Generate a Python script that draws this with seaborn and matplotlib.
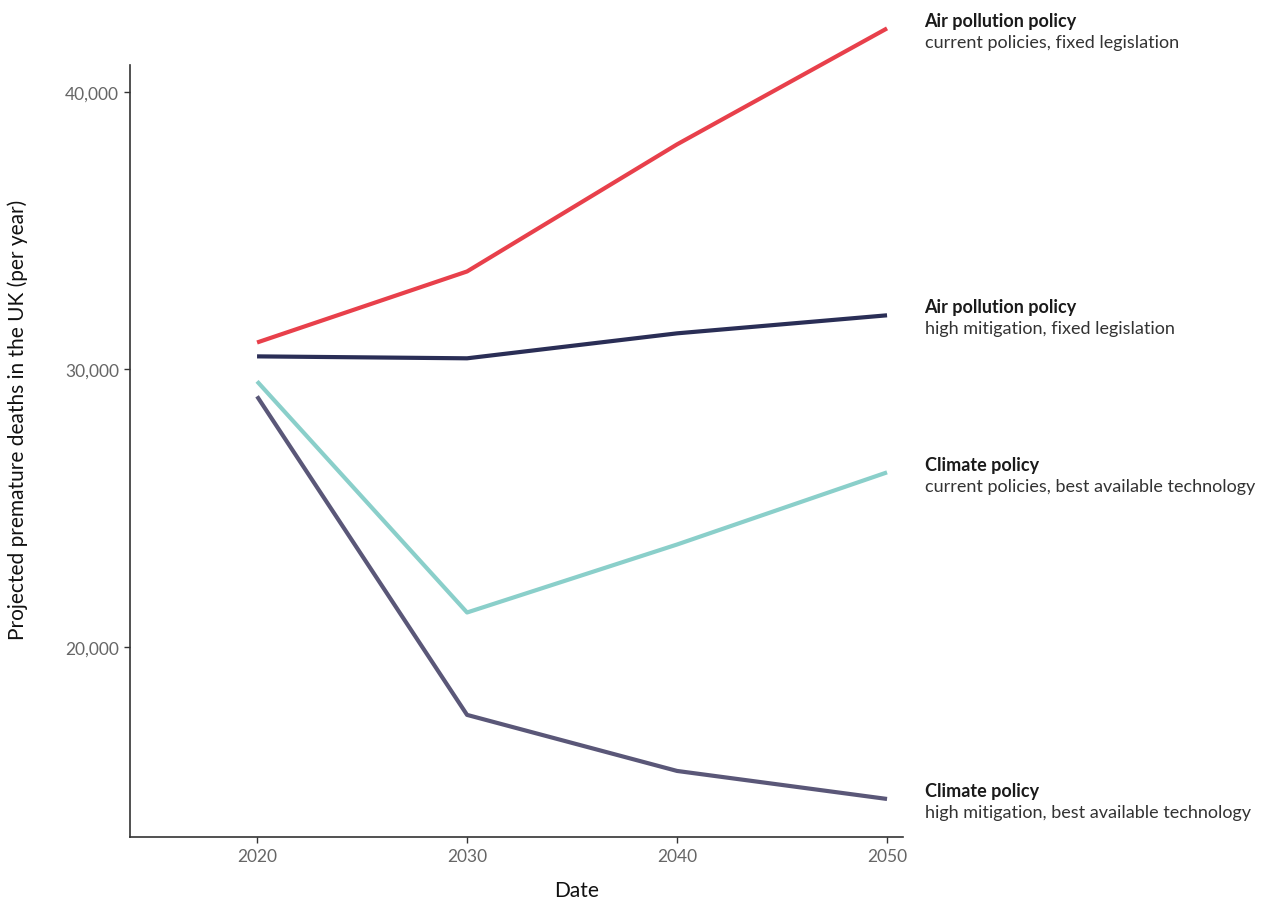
import matplotlib
matplotlib.use("Agg")
import matplotlib.pyplot as plt
import seaborn as sns
import pandas as pd
from matplotlib.ticker import FuncFormatter

# data
years = [2020, 2030, 2040, 2050]
air_current = [30970, 33530, 38110, 42290]
air_high = [30470, 30400, 31300, 31950]
climate_current = [29570, 21240, 23690, 26290]
climate_high = [29030, 17550, 15530, 14520]

titles = ["Air pollution policy", "Air pollution policy", "Climate policy", "Climate policy"]
subtitles = ["current policies, fixed legislation", "high mitigation, fixed legislation",
             "current policies, best available technology", "high mitigation, best available technology"]
colors = ["#E8404B", "#2A2E56", "#8ACFCA", "#5A5778"]

series = [air_current, air_high, climate_current, climate_high]
rows = []
for i, vals in enumerate(series):
    for y, v in zip(years, vals):
        rows.append({"Date": y, "deaths": v, "scenario": i})
df = pd.DataFrame(rows)

sns.set_style("white")
plt.rcParams["font.family"] = ["Lato", "DejaVu Sans"]

fig = plt.figure(figsize=(12.61, 9.03), dpi=100)
ax = fig.add_axes([0.1031, 0.0720, 0.6130, 0.8549])

sns.lineplot(data=df, x="Date", y="deaths", hue="scenario", palette=colors,
             linewidth=3, legend=False, ax=ax)
for line in ax.lines:
    line.set_clip_on(False)
    line.set_solid_capstyle("butt")

ax.set_xlim(2013.95, 2050.76)
ax.set_ylim(13150, 40970)
ax.set_xticks(years)
ax.set_yticks([20000, 30000, 40000])
ax.yaxis.set_major_formatter(FuncFormatter(lambda v, p: f"{v:,.0f}"))
ax.tick_params(axis="both", labelsize=12.5, labelcolor="#666666", color="#333333",
               length=4, width=1, left=True, bottom=True, pad=4)
for side in ["top", "right"]:
    ax.spines[side].set_visible(False)
for side in ["left", "bottom"]:
    ax.spines[side].set_color("#333333")
    ax.spines[side].set_linewidth(1.2)
ax.set_xlabel("")
ax.set_ylabel("")

fig.text(0.4575, 0.002, "Date", ha="center", va="bottom", fontsize=15, color="#111111")
fig.text(0.014, 0.535, "Projected premature deaths in the UK (per year)", rotation=90,
         ha="center", va="center", fontsize=15, color="#111111")

# right-hand labels
for vals, t, s in zip(series, titles, subtitles):
    ax.annotate(t, xy=(2050, vals[-1]), xytext=(27, 6), textcoords="offset points",
                ha="left", va="center", fontsize=13, fontweight="bold", color="#1a1a1a",
                annotation_clip=False)
    ax.annotate(s, xy=(2050, vals[-1]), xytext=(27, -9.5), textcoords="offset points",
                ha="left", va="center", fontsize=13, color="#333333", annotation_clip=False)

fig.savefig("out.png", dpi=100)
